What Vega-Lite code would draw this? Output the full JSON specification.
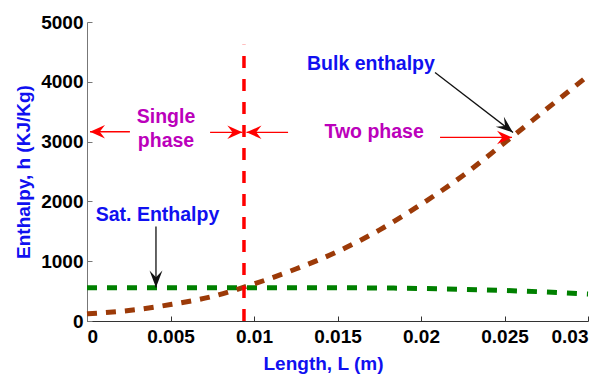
{
  "$schema": "https://vega.github.io/schema/vega-lite/v6.json",
  "width": 501,
  "height": 299,
  "autosize": "none",
  "padding": {"left": 87, "top": 22, "right": 22, "bottom": 56},
  "background": "white",
  "config": {
    "view": {"stroke": null},
    "font": "Liberation Sans",
    "axis": {
      "grid": false,
      "domainColor": "#555555",
      "tickColor": "#555555",
      "tickSize": -5,
      "labelFont": "Liberation Sans",
      "labelFontSize": 19,
      "labelFontWeight": "bold",
      "labelColor": "#000000",
      "titleFont": "Liberation Sans",
      "titleFontSize": 19,
      "titleFontWeight": "bold",
      "titleColor": "#1010f0"
    }
  },
  "datasets": {
    "bulk": [
      {"L": 0, "h": 120},
      {"L": 0.0025, "h": 175},
      {"L": 0.005, "h": 275},
      {"L": 0.0075, "h": 410},
      {"L": 0.01, "h": 620},
      {"L": 0.0125, "h": 870},
      {"L": 0.015, "h": 1160},
      {"L": 0.0175, "h": 1520},
      {"L": 0.02, "h": 1950},
      {"L": 0.0225, "h": 2430},
      {"L": 0.025, "h": 2980},
      {"L": 0.0275, "h": 3540},
      {"L": 0.03, "h": 4100}
    ],
    "sat": [
      {"L": 0, "h": 555},
      {"L": 0.005, "h": 556},
      {"L": 0.01, "h": 557},
      {"L": 0.015, "h": 555},
      {"L": 0.0175, "h": 552},
      {"L": 0.02, "h": 544},
      {"L": 0.0225, "h": 530},
      {"L": 0.025, "h": 510},
      {"L": 0.0275, "h": 485},
      {"L": 0.03, "h": 452}
    ],
    "boundary": [{"L": 0.0094, "h": 0, "h2": 4620}],
    "arrows": [
      {"id": "single", "group": "phase", "dir": "left", "L": 0.00257, "h": 3165, "L2": 0.00018, "h2": 3165},
      {"id": "toLineFromLeft", "group": "phase", "dir": "right", "L": 0.00737, "h": 3155, "L2": 0.0093, "h2": 3155},
      {"id": "toLineFromRight", "group": "phase", "dir": "left", "L": 0.01204, "h": 3155, "L2": 0.00955, "h2": 3155},
      {"id": "twoPhase", "group": "phase", "dir": "right", "L": 0.02114, "h": 3069, "L2": 0.02545, "h2": 3069},
      {"id": "bulk", "group": "label", "dir": "downright", "L": 0.02084, "h": 4155, "L2": 0.02551, "h2": 3152},
      {"id": "sat", "group": "label", "dir": "down", "L": 0.00413, "h": 1580, "L2": 0.00413, "h2": 560}
    ],
    "notes": [
      {"text": "Single", "kind": "phase", "L": 0.00473, "h": 3319},
      {"text": "phase", "kind": "phase", "L": 0.00473, "h": 2918},
      {"text": "Two phase", "kind": "phase", "L": 0.01719, "h": 3052},
      {"text": "Bulk enthalpy", "kind": "curve", "L": 0.0170, "h": 4189},
      {"text": "Sat. Enthalpy", "kind": "curve", "L": 0.00422, "h": 1664}
    ]
  },
  "layer": [
    {
      "data": {"name": "sat"},
      "mark": {"type": "line", "color": "#008000", "strokeWidth": 5, "strokeDash": [10, 10], "interpolate": "monotone"},
      "encoding": {
        "x": {"field": "L", "type": "quantitative", "scale": {"domain": [0, 0.03], "nice": false},
          "axis": {"values": [0, 0.005, 0.01, 0.015, 0.02, 0.025, 0.03], "format": "~g", "title": "Length, L (m)", "labelPadding": 11, "titleX": 236, "titlePadding": 8, "domainColor": "#333333", "tickColor": "#333333"}},
        "y": {"field": "h", "type": "quantitative", "scale": {"domain": [0, 5000], "nice": false},
          "axis": {"values": [0, 1000, 2000, 3000, 4000, 5000], "format": "d", "title": "Enthalpy, h (KJ/Kg)", "labelPadding": 9, "titlePadding": 7, "domainColor": "#777777", "tickColor": "#777777"}}
      }
    },
    {
      "data": {"name": "bulk"},
      "mark": {"type": "line", "color": "#9c3a08", "strokeWidth": 5, "strokeDash": [10, 9], "interpolate": "monotone"},
      "encoding": {
        "x": {"field": "L", "type": "quantitative"},
        "y": {"field": "h", "type": "quantitative"}
      }
    },
    {
      "data": {"name": "boundary"},
      "mark": {"type": "rule", "color": "#ff0000", "strokeWidth": 3.5, "strokeDash": [12, 11]},
      "encoding": {
        "x": {"field": "L", "type": "quantitative"},
        "y": {"field": "h", "type": "quantitative"},
        "y2": {"field": "h2"}
      }
    },
    {
      "data": {"name": "arrows"},
      "mark": {"type": "rule", "strokeWidth": 1.3},
      "encoding": {
        "x": {"field": "L", "type": "quantitative"},
        "y": {"field": "h", "type": "quantitative"},
        "x2": {"field": "L2"},
        "y2": {"field": "h2"},
        "color": {"field": "group", "type": "nominal", "scale": {"domain": ["phase", "label"], "range": ["#ff0000", "#111111"]}, "legend": null}
      }
    },
    {
      "data": {"name": "arrows"},
      "transform": [{"filter": "datum.dir == 'right'"}],
      "mark": {"type": "point", "filled": true, "opacity": 1, "strokeWidth": 0, "size": 900, "shape": "M0,0L-1,-0.45L-0.65,0L-1,0.45Z", "angle": 0},
      "encoding": {
        "x": {"field": "L2", "type": "quantitative"},
        "y": {"field": "h2", "type": "quantitative"},
        "color": {"field": "group", "type": "nominal", "legend": null}
      }
    },
    {
      "data": {"name": "arrows"},
      "transform": [{"filter": "datum.dir == 'left'"}],
      "mark": {"type": "point", "filled": true, "opacity": 1, "strokeWidth": 0, "size": 900, "shape": "M0,0L-1,-0.45L-0.65,0L-1,0.45Z", "angle": 180},
      "encoding": {
        "x": {"field": "L2", "type": "quantitative"},
        "y": {"field": "h2", "type": "quantitative"},
        "color": {"field": "group", "type": "nominal", "legend": null}
      }
    },
    {
      "data": {"name": "arrows"},
      "transform": [{"filter": "datum.dir == 'down'"}],
      "mark": {"type": "point", "filled": true, "opacity": 1, "strokeWidth": 0, "size": 1156, "shape": "M0,0L-1,-0.38L-0.6,0L-1,0.38Z", "angle": 90},
      "encoding": {
        "x": {"field": "L2", "type": "quantitative"},
        "y": {"field": "h2", "type": "quantitative"},
        "color": {"field": "group", "type": "nominal", "legend": null}
      }
    },
    {
      "data": {"name": "arrows"},
      "transform": [{"filter": "datum.dir == 'downright'"}],
      "mark": {"type": "point", "filled": true, "opacity": 1, "strokeWidth": 0, "size": 1156, "shape": "M0,0L-1,-0.38L-0.6,0L-1,0.38Z", "angle": 39},
      "encoding": {
        "x": {"field": "L2", "type": "quantitative"},
        "y": {"field": "h2", "type": "quantitative"},
        "color": {"field": "group", "type": "nominal", "legend": null}
      }
    },
    {
      "data": {"name": "notes"},
      "transform": [{"filter": "datum.kind == 'phase'"}],
      "mark": {"type": "text", "font": "Liberation Sans", "fontSize": 19.5, "fontWeight": "bold", "align": "center", "baseline": "alphabetic", "color": "#bb00bb"},
      "encoding": {
        "x": {"field": "L", "type": "quantitative"},
        "y": {"field": "h", "type": "quantitative"},
        "text": {"field": "text", "type": "nominal"}
      }
    },
    {
      "data": {"name": "notes"},
      "transform": [{"filter": "datum.kind == 'curve'"}],
      "mark": {"type": "text", "font": "Liberation Sans", "fontSize": 19.5, "fontWeight": "bold", "align": "center", "baseline": "alphabetic", "color": "#1010f0"},
      "encoding": {
        "x": {"field": "L", "type": "quantitative"},
        "y": {"field": "h", "type": "quantitative"},
        "text": {"field": "text", "type": "nominal"}
      }
    }
  ]
}
